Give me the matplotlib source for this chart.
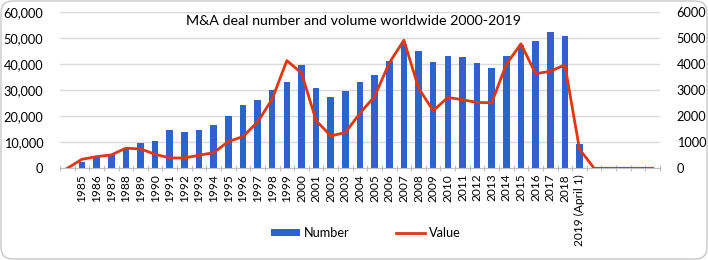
import numpy as np
import matplotlib
matplotlib.use("Agg")
import matplotlib.pyplot as plt
from matplotlib.patches import FancyBboxPatch
from matplotlib.ticker import FuncFormatter, MultipleLocator

plt.rcParams['font.family'] = ['Lato', 'DejaVu Sans']

# categories: one empty slot before 1985, five empty slots after 2019
years = [''] + [str(y) for y in range(1985, 2019)] + ['2019 (April 1)'] + [''] * 5

# number of deals (left axis); None where no bar
number = [None,
          2540, 4450, 5100, 7700, 9850, 10650, 14500, 13900, 14500, 16550,
          20150, 24100, 26200, 30100, 33100, 39700, 30900, 27150, 29550, 32900,
          35900, 41300, 47700, 45100, 40800, 43200, 42550, 40500, 38600, 42950,
          47150, 48950, 52150, 50850, 9230,
          None, None, None, None, None]

# deal value (right axis)
value = [0,
         346, 446, 512, 770, 742, 538, 396, 396, 500, 600,
         1023, 1215, 1770, 2654, 4127, 3654, 1831, 1242, 1370, 2115,
         2754, 4038, 4908, 3077, 2204, 2715, 2627, 2523, 2512, 3988,
         4769, 3627, 3715, 3962, 731,
         0, 0, 0, 0, 0]

blue = '#2E62CC'
red = '#E2360F'
grid_col = '#D9D9D9'

fig = plt.figure(figsize=(7.08, 2.6), dpi=100)
ax = fig.add_axes([60 / 708, 91.7 / 260, 600 / 708, 156.6 / 260])
ax2 = ax.twinx()

x = np.arange(len(years))
bar_vals = [np.nan if v is None else v for v in number]
ax.bar(x, bar_vals, width=0.45, color=blue, zorder=2, label='Number')
ax2.plot(x, value, color=red, lw=2, zorder=3, label='Value')

ax.set_xlim(-0.5, len(years) - 0.5)
ax.set_ylim(0, 60000)
ax2.set_ylim(0, 6000)
ax.yaxis.set_major_locator(MultipleLocator(10000))
ax2.yaxis.set_major_locator(MultipleLocator(1000))
ax.yaxis.set_major_formatter(FuncFormatter(lambda v, p: f'{int(v):,}'))
ax2.yaxis.set_major_formatter(FuncFormatter(lambda v, p: f'{int(v)}'))

ax.grid(axis='y', color=grid_col, lw=1, zorder=0)
ax.set_axisbelow(True)

ax.set_xticks(x)
ax.set_xticklabels(years, rotation=90, fontsize=8.6)
ax.set_xticks(np.arange(-0.5, len(years), 1), minor=True)
ax.tick_params(axis='x', which='major', length=0, pad=4)
ax.tick_params(axis='x', which='minor', length=5, direction='inout', color='#BFBFBF', width=0.8)
ax.tick_params(axis='y', length=0, labelsize=9.2, pad=12)
ax2.tick_params(axis='y', length=0, labelsize=9.2, pad=12)

for a in (ax, ax2):
    for s in ('top', 'left', 'right'):
        a.spines[s].set_visible(False)
ax.spines['bottom'].set_color('#BFBFBF')
ax2.spines['bottom'].set_visible(False)

ax.set_zorder(ax2.get_zorder() - 1)
ax2.patch.set_visible(False)
ax.patch.set_visible(False)

fig.text(354 / 708, 1 - 21 / 260, 'M&A deal number and volume worldwide 2000-2019',
         ha='center', va='center', fontsize=10.3)

h1, l1 = ax.get_legend_handles_labels()
h2, l2 = ax2.get_legend_handles_labels()
fig.legend(h1 + h2, l1 + l2, loc='center', bbox_to_anchor=(366 / 708, 27 / 260),
           ncol=2, frameon=False, fontsize=9.2, handlelength=2.3, handleheight=0.5,
           columnspacing=3.6, handletextpad=0.3)

border = FancyBboxPatch((0.01, 0.01), 7.06, 2.58, boxstyle='round,pad=0,rounding_size=0.12',
                        transform=fig.dpi_scale_trans, fill=False, ec='#C8C8C8', lw=1)
fig.add_artist(border)

fig.savefig('out.png', dpi=100)
